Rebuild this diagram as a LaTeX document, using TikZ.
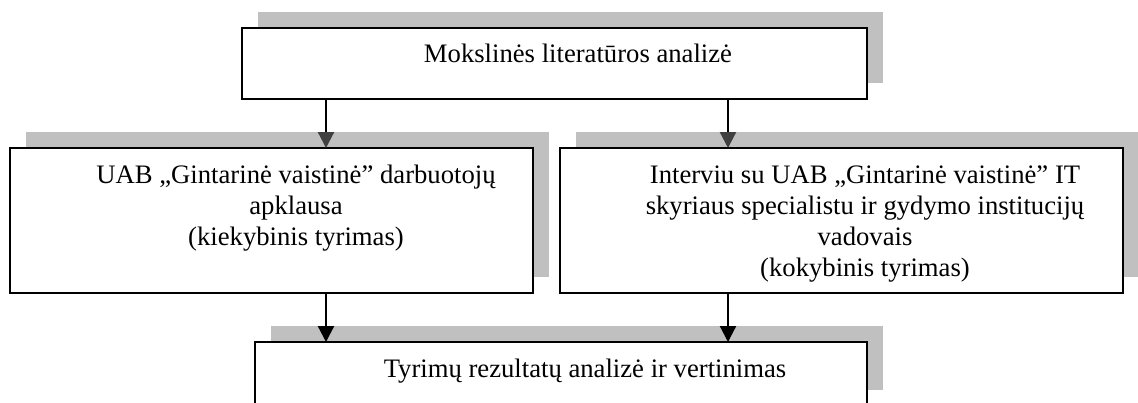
\documentclass[tikz,border=0pt]{standalone}
\usepackage{fontspec}
\setmainfont{Liberation Serif}
\usetikzlibrary{arrows.meta,shadows,calc}
\definecolor{shadowgray}{RGB}{192,192,192}
\definecolor{headgray}{RGB}{64,64,64}
\begin{document}
\begin{tikzpicture}[x=0.75pt,y=-0.75pt,
  box/.style={draw, line width=1.5pt, fill=white, rectangle, inner sep=0pt, outer sep=0pt, anchor=north west,
    drop shadow={shadow xshift=12pt, shadow yshift=12pt, fill=shadowgray, opacity=1}},
  txt/.style={font=\fontsize{20pt}{23.1pt}\selectfont, align=center, inner sep=0pt, anchor=base},
  arr/.style={line width=1.7pt, -{Triangle[length=12pt,width=12pt]}},
  arrg/.style={line width=1.7pt, -{Triangle[length=12pt,width=12pt,color=headgray]}}]
\useasboundingbox (0,0) rectangle (1138,403);
\clip (0,0) rectangle (1138,403);
\node[box, minimum width=468.75pt, minimum height=53.25pt] (top) at (242,28) {};
\node[box, minimum width=392.25pt, minimum height=108.75pt] (left) at (10,148) {};
\node[box, minimum width=422.25pt, minimum height=108.75pt] (right) at (560,148) {};
\node[box, minimum width=459pt, minimum height=48pt] (bottom) at (255,342) {};
\node[txt] (topT) at (578,63) {Mokslinės literatūros analizė};
\node[txt] (leftT) at (296,245) {UAB „Gintarinė vaistinė” darbuotojų\\apklausa\\(kiekybinis tyrimas)};
\node[txt] (rightT) at (865,276) {Interviu su UAB „Gintarinė vaistinė” IT\\skyriaus specialistu ir gydymo institucijų\\vadovais\\(kokybinis tyrimas)};
\node[txt] (bottomT) at (585,377) {Tyrimų rezultatų analizė ir vertinimas};
\coordinate (p1) at ($(top.south west)!0.1344!(top.south east)$);
\coordinate (p2) at ($(top.south west)!0.7776!(top.south east)$);
\draw[arrg] (p1) -- (p1 |- left.north);
\draw[arrg] (p2) -- (p2 |- right.north);
\draw[arr] (p1 |- left.south) -- (p1 |- bottom.north);
\draw[arr] (p2 |- right.south) -- (p2 |- bottom.north);
\end{tikzpicture}
\end{document}
